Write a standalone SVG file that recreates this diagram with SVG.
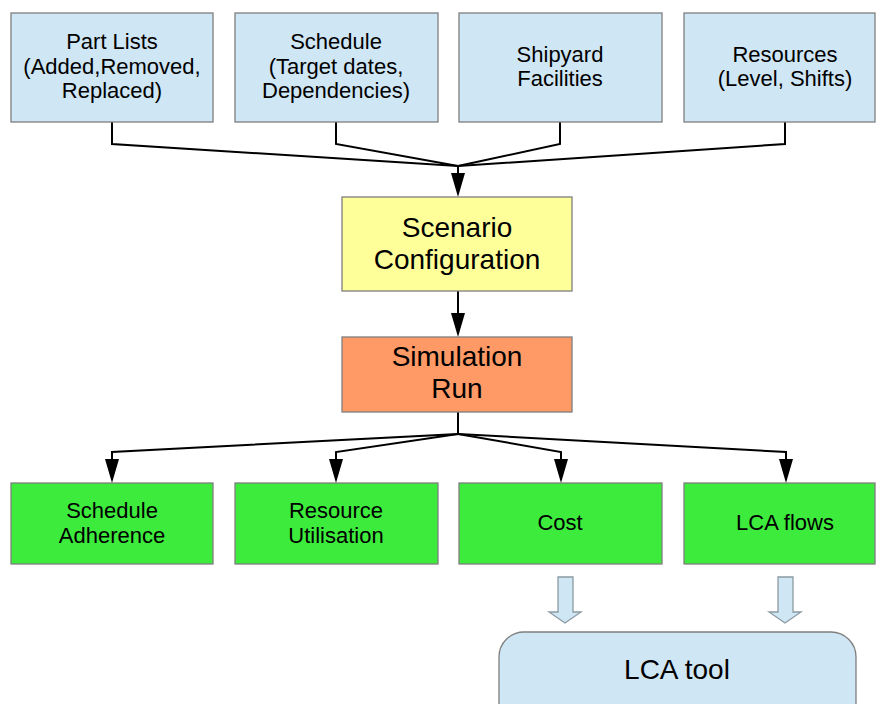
<svg xmlns="http://www.w3.org/2000/svg" width="876" height="704" viewBox="0 0 876 704">
<defs>
<style>
.box{stroke:#7f7f7f;stroke-width:1.3}
.in{fill:#cfe6f4}
.cfg{fill:#ffff99}
.sim{fill:#ff9966}
.out{fill:#3deb3d}
.t{font-family:"Liberation Sans",Arial,sans-serif;font-size:22px;fill:#000;text-anchor:middle}
.tb{font-family:"Liberation Sans",Arial,sans-serif;font-size:28px;fill:#000;text-anchor:middle}
.ln{fill:none;stroke:#000;stroke-width:2}
.hollow{fill:#cfe6f4;stroke:#8c9aa3;stroke-width:1.3}
</style>
</defs>
<rect width="876" height="704" fill="#fff"/>
<g id="connectors">
<polyline class="ln" points="112,122 112,144 458,166"/>
<polyline class="ln" points="336,122 336,144 458,166"/>
<polyline class="ln" points="560,122 560,144 458,166"/>
<polyline class="ln" points="785,122 785,144 458,166"/>
<line class="ln" x1="458" y1="166" x2="458" y2="174"/>
<path d="M451,173 L465,173 L458,197 Z" fill="#000"/>
<line class="ln" x1="458" y1="291" x2="458" y2="314"/>
<path d="M451,313 L465,313 L458,337 Z" fill="#000"/>
<polyline class="ln" points="458,412 458,434 112,452 112,460"/>
<polyline class="ln" points="458,434 336,452 336,460"/>
<polyline class="ln" points="458,434 561,452 561,460"/>
<polyline class="ln" points="458,434 786,452 786,460"/>
<path d="M105,459 L119,459 L112,483 Z" fill="#000"/>
<path d="M329,459 L343,459 L336,483 Z" fill="#000"/>
<path d="M554,459 L568,459 L561,483 Z" fill="#000"/>
<path d="M779,459 L793,459 L786,483 Z" fill="#000"/>
<path class="hollow" d="M558,577 L573,577 L573,612 L581,612 L565,623 L549,612 L558,612 Z"/>
<path class="hollow" d="M778,577 L793,577 L793,612 L801,612 L785,623 L769,612 L778,612 Z"/>
</g>
<g id="part-lists">
<rect class="box in" x="11" y="13" width="202" height="109"/>
<text class="t" x="112" y="49">Part Lists</text>
<text class="t" x="112" y="74">(Added,Removed,</text>
<text class="t" x="112" y="98">Replaced)</text>
</g>
<g id="schedule">
<rect class="box in" x="235" y="13" width="203" height="109"/>
<text class="t" x="336" y="49">Schedule</text>
<text class="t" x="336" y="74">(Target dates,</text>
<text class="t" x="336" y="98">Dependencies)</text>
</g>
<g id="shipyard">
<rect class="box in" x="459" y="13" width="203" height="109"/>
<text class="t" x="560" y="62">Shipyard</text>
<text class="t" x="560" y="86">Facilities</text>
</g>
<g id="resources">
<rect class="box in" x="684" y="13" width="191" height="109"/>
<text class="t" x="785" y="62">Resources</text>
<text class="t" x="785" y="86">(Level, Shifts)</text>
</g>
<g id="scenario">
<rect class="box cfg" x="342" y="197" width="230" height="94"/>
<text class="tb" x="457" y="237">Scenario</text>
<text class="tb" x="457" y="269">Configuration</text>
</g>
<g id="simulation">
<rect class="box sim" x="342" y="337" width="230" height="75"/>
<text class="tb" x="457" y="366">Simulation</text>
<text class="tb" x="457" y="398">Run</text>
</g>
<g id="schedule-adherence">
<rect class="box out" x="11" y="483" width="202" height="81"/>
<text class="t" x="112" y="518">Schedule</text>
<text class="t" x="112" y="543">Adherence</text>
</g>
<g id="resource-utilisation">
<rect class="box out" x="235" y="483" width="203" height="81"/>
<text class="t" x="336" y="518">Resource</text>
<text class="t" x="336" y="543">Utilisation</text>
</g>
<g id="cost">
<rect class="box out" x="459" y="483" width="203" height="81"/>
<text class="t" x="560" y="530">Cost</text>
</g>
<g id="lca-flows">
<rect class="box out" x="684" y="483" width="191" height="81"/>
<text class="t" x="785" y="530">LCA flows</text>
</g>
<g id="lca-tool">
<rect class="box in" x="499" y="632" width="357" height="100" rx="25" ry="25"/>
<text class="tb" x="677" y="679">LCA tool</text>
</g>
</svg>
